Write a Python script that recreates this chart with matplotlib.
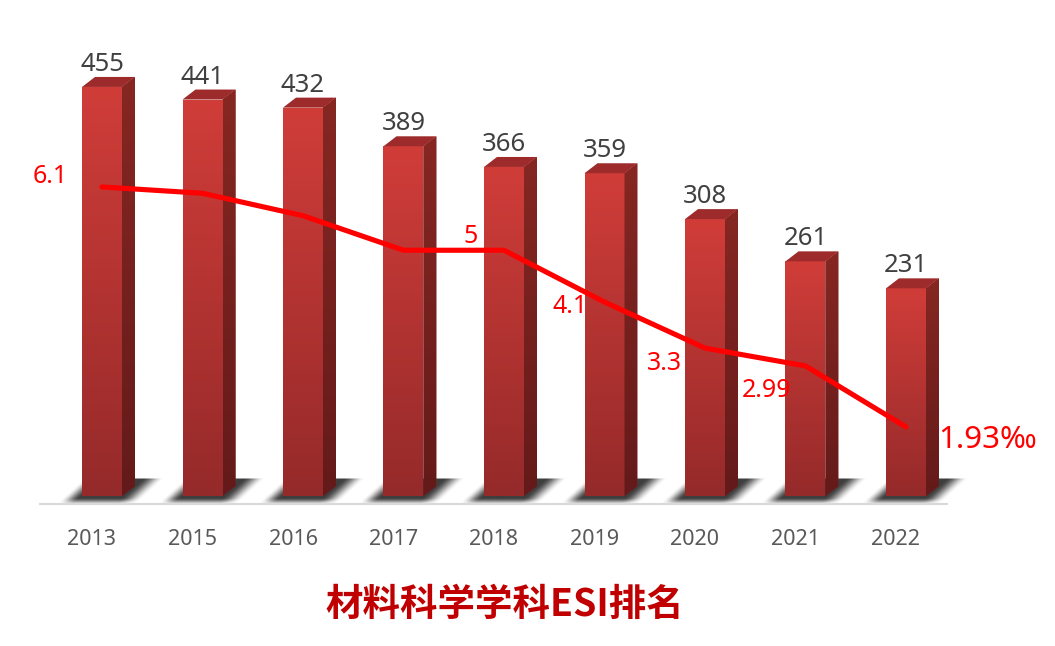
import numpy as np
import matplotlib
matplotlib.use('Agg')
import matplotlib.pyplot as plt
from matplotlib.patches import Polygon
from matplotlib.transforms import ScaledTranslation

plt.rcParams['font.family'] = ['Noto Sans', 'Noto Sans CJK SC', 'DejaVu Sans']

# chart data
years = ['2013', '2015', '2016', '2017', '2018', '2019', '2020', '2021', '2022']
ranks = [455, 441, 432, 389, 366, 359, 308, 261, 231]
permille = [6.1, 5.99, 5.6, 5.0, 5.0, 4.1, 3.3, 2.99, 1.93]
line_labels = ['6.1', None, None, None, '5', '4.1', '3.3', '2.99', '1.93‰']
title = '材料科学学科ESI排名'

# layout, in pixels of the 1055x646 image
W, H = 1055, 646
STEP = 100.5      # px between bars
PX_Y = 0.899      # px per rank unit
BAR_W = 40 / STEP
DX = 13 / STEP    # 3d depth
DY = 10 / PX_Y
# where the line labels sit relative to their point (px)
label_offsets = [(-52, 10), None, None, None, (-33, 14), (-34, -4), (-40, -15), (-39, -25), (82, -13)]

fig = plt.figure(figsize=(W / 100, H / 100), dpi=100)
ax = fig.add_axes([40 / W, (H - 504) / H, 907 / W, (504 - 20) / H])
xlim = ((40 - 102) / STEP, (947 - 102) / STEP)
ylim = (-8 / PX_Y, (496 - 20) / PX_Y)


def vgrad(top, bottom):
    top = np.array(matplotlib.colors.to_rgb(top))
    bottom = np.array(matplotlib.colors.to_rgb(bottom))
    t = np.linspace(0, 1, 128)[:, None]
    return (top + (bottom - top) * t)[:, None, :]


def ramp(v):
    v = np.clip(v, 0, 1)
    return v * v * (3 - 2 * v)


def shadow_image():
    # soft skewed shadow on a px grid: x is relative to the bar centre, y is image rows
    px, py = np.meshgrid(np.arange(-45, 70), np.arange(474, 506))
    sx = px - (500 - py) * 1.1
    horiz = ramp((sx + 43) / 18) * ramp((38 - sx) / 22)
    vert = ramp((py - 477) / 2.0) * ramp((505 - py) / 8)
    img = np.zeros(px.shape + (4,))
    img[..., :3] = 0.2
    img[..., 3] = horiz * vert * 0.95
    return img


shadow = shadow_image()
for i, v in enumerate(ranks):
    left, right = i - BAR_W / 2, i + BAR_W / 2

    # shadow under the bar
    ax.imshow(shadow, extent=(i - 45 / STEP, i + 70 / STEP, -10 / PX_Y, 22 / PX_Y),
              aspect='auto', zorder=1, interpolation='bilinear', clip_on=False)

    # front face
    front = ax.bar(i, v, width=BAR_W, color='#b03030', linewidth=0, zorder=2)[0]
    im = ax.imshow(vgrad('#d03d39', '#952a2a'), extent=(left, right, 0, v),
                   aspect='auto', zorder=3, interpolation='bilinear')
    im.set_clip_path(front)

    # side face
    side = Polygon([(right, 0), (right + DX, DY), (right + DX, v + DY), (right, v)],
                   closed=True, facecolor='#7a2222', edgecolor='none', zorder=2)
    ax.add_patch(side)
    im = ax.imshow(vgrad('#862722', '#641a1a'), extent=(right, right + DX, 0, v + DY),
                   aspect='auto', zorder=3, interpolation='bilinear')
    im.set_clip_path(side)

    # top face
    ax.add_patch(Polygon([(left, v), (right, v), (right + DX, v + DY), (left + DX, v + DY)],
                         closed=True, facecolor='#9d2b2b', edgecolor='none', zorder=3))

    ax.annotate(str(v), (i, v), xytext=(0, 22.5 * 0.72), textcoords='offset points',
                ha='center', va='center', fontsize=18.5, color='#404040', zorder=6)

ax.set_xlim(xlim)
ax.set_ylim(ylim)
ax.set_xticks(range(len(years)))
ax.set_xticklabels(years, fontsize=15.5, color='#595959')
ax.tick_params(axis='x', length=0, pad=18)
# the category labels sit 10px left of the front faces in the original
shift = ScaledTranslation(-10 / 100, 0, fig.dpi_scale_trans)
for lab in ax.get_xticklabels():
    lab.set_transform(lab.get_transform() + shift)
ax.set_yticks([])
for s in ['top', 'left', 'right']:
    ax.spines[s].set_visible(False)
ax.spines['bottom'].set_color('#d9d9d9')
ax.spines['bottom'].set_linewidth(1.5)
ax.spines['bottom'].set_zorder(4)
ax.patch.set_alpha(0)

# red line on its own scale
ax2 = ax.twinx()
ax2.set_ylim((538 - 504) / 57.55, (538 - 20) / 57.55)
ax2.set_yticks([])
for s in ax2.spines.values():
    s.set_visible(False)
ax2.plot(range(len(years)), permille, color='#ff0000', linewidth=3.7,
         solid_capstyle='round', solid_joinstyle='round', zorder=5)
for i, lab in enumerate(line_labels):
    if lab is None:
        continue
    dx, dy = label_offsets[i]
    ax2.annotate(lab, (i, permille[i]), xytext=(dx * 0.72, dy * 0.72), textcoords='offset points',
                 ha='center', va='center', color='#ff0000',
                 fontsize=22.5 if '‰' in lab else 18, zorder=6)

fig.text(505 / W, (H - 604) / H, title, ha='center', va='center', fontsize=27,
         fontweight='bold', color='#c00000', family=['Noto Sans CJK SC', 'DejaVu Sans'])

fig.savefig('out.png', dpi=100, facecolor='white')
